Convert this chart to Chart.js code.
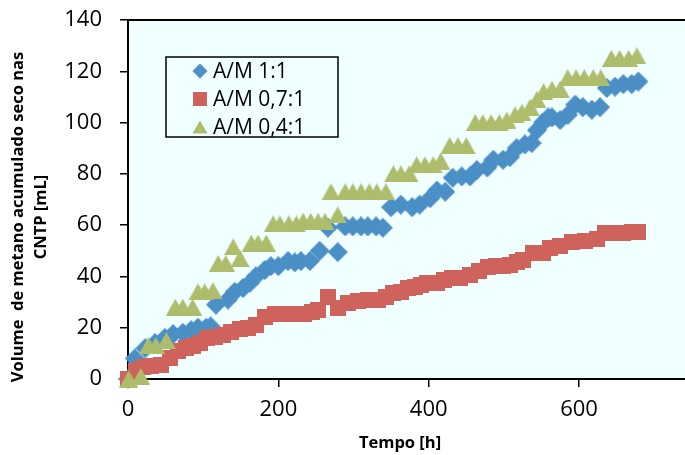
<!DOCTYPE html>
<html><head><meta charset="utf-8">
<script src="https://cdn.jsdelivr.net/npm/chart.js@4/dist/chart.umd.min.js"></script>
<style>html,body{margin:0;padding:0;background:#fff;}#wrap{width:685px;height:455px;}</style>
</head><body><div id="wrap"><canvas id="c" width="685" height="455"></canvas></div>
<script>
// ---- data ----
const seriesNames = ['A/M 1:1', 'A/M 0,7:1', 'A/M 0,4:1'];
const xTitle = 'Tempo [h]';
const yTitleLines = ['Volume  de metano acumulado seco nas', 'CNTP [mL]'];
const xTickValues = [0, 200, 400, 600];
const yTickValues = [0, 20, 40, 60, 80, 100, 120, 140];

const hoursA = [0,9,23,36,49,60,73,84,93,104,110,117,133,142,153,162,170,182,190,200,213,222,230,242,255,266,279,289,299,310,319,330,339,350,363,378,388,402,411,422,432,444,455,464,478,486,499,508,517,528,537,544,552,559,564,575,585,595,605,617,628,637,648,659,670,679];
const volA   = [0,8,12,14,16,17.5,18,19,20,20,20.5,29,31,34,35.5,37.5,40,42.5,44,44,46,45.5,46,46,50,59,49.5,59.5,59.5,59.5,59.5,59.5,59,67,68,67,68,70.5,73.5,73,78.5,79,79,81.5,82.5,85.5,85.5,86.5,90,91.5,92,97,100,102,102,101,103,107,106,105,106,113.5,114,115,115,116];

const hoursB = [0,11,20,31,44,56,67,77,86,96,105,116,126,137,149,160,170,182,196,209,222,234,245,253,266,279,293,306,319,333,343,353,363,372,382,390,398,411,420,431,442,455,467,479,490,499,508,517,525,539,552,561,575,591,608,624,635,648,659,670,679];
const volB   = [0,3,4.7,5,5.5,8,11,12,13,14,16,16.5,17,18.5,19.5,20,21,24,25.5,25.5,25.5,25.5,26,27,32,27.5,29.5,30.5,31,31,32,33.5,34,35.5,36,36.5,37.5,37.5,38.5,39.5,39.5,40.5,42,43.5,44,44,44.5,45.5,46.5,49,49,51,52,53.5,54,54.5,57,57,57,57.5,57.5];

const hoursC = [1,17,27,37,51,63,73,86,93,102,113,120,130,140,149,164,173,184,193,202,214,224,233,243,253,262,270,279,289,299,310,321,331,343,353,363,374,384,395,406,416,428,439,450,462,472,483,494,504,515,524,535,544,553,564,575,585,596,607,619,629,643,654,666,677];
const volC   = [0,1,13,13,15,28,28,28,34,34,34.5,45,45,51.5,47,53,53,53,60.5,60.5,60.5,60.5,61.5,61.5,61.5,61.5,73,64,73,73,73,73,73,73,80,80,80,83.5,83.5,83.5,85,91,91,91,100,100,100,100,101,103,104,106,109,112,113,113,117.5,117.5,117.5,117.5,117.5,125,125,125,126];

const colors = ['#4a8fc6', '#d0625c', '#adbd6b'];
const shapes = ['diamond', 'square', 'triangle'];

function makeMarker(type, w, h, color) {
  const c = document.createElement('canvas');
  c.width = w; c.height = h;
  const g = c.getContext('2d');
  g.fillStyle = color;
  drawShape(g, type, w / 2, h / 2, w, h);
  return c;
}
function drawShape(g, type, cx, cy, w, h) {
  g.beginPath();
  if (type === 'diamond') {
    g.moveTo(cx, cy - h / 2); g.lineTo(cx + w / 2, cy); g.lineTo(cx, cy + h / 2); g.lineTo(cx - w / 2, cy);
  } else if (type === 'square') {
    g.rect(cx - w / 2, cy - h / 2, w, h);
  } else {
    g.moveTo(cx, cy - h / 2); g.lineTo(cx + w / 2, cy + h / 2); g.lineTo(cx - w / 2, cy + h / 2);
  }
  g.closePath();
  g.fill();
}
const markerSizes = [[20, 20], [16, 16], [19, 17]];
const legendSizes = [[15, 15], [14, 14], [15, 13]];

const toPts = (hs, vs) => hs.map((h, i) => ({ x: h, y: vs[i] }));
const allPts = [toPts(hoursA, volA), toPts(hoursB, volB), toPts(hoursC, volC)];

const datasets = allPts.map((pts, i) => ({
  label: seriesNames[i],
  data: pts,
  showLine: false,
  pointStyle: makeMarker(shapes[i], markerSizes[i][0], markerSizes[i][1], colors[i]),
  pointRadius: 9,
  pointHoverRadius: 9,
  clip: false,
  order: 3 - i
}));

const plotBg = '#f0ffff';
const decor = {
  id: 'decor',
  beforeDraw(chart) {
    const { ctx, chartArea: a } = chart;
    ctx.save();
    ctx.fillStyle = '#ffffff';
    ctx.fillRect(0, 0, chart.width, chart.height);
    ctx.fillStyle = plotBg;
    ctx.fillRect(a.left, a.top, a.right - a.left, a.bottom - a.top);
    ctx.restore();
  },
  afterDraw(chart) {
    const { ctx, chartArea: a } = chart;
    ctx.save();
    ctx.strokeStyle = '#000'; ctx.lineWidth = 2;
    ctx.beginPath(); ctx.moveTo(a.left - 1, a.top); ctx.lineTo(chart.width, a.top); ctx.stroke();
    const lx = 166, ly = 57, lw = 172, lh = 80;
    ctx.fillStyle = plotBg; ctx.fillRect(lx, ly, lw, lh);
    ctx.lineWidth = 1.5; ctx.strokeRect(lx, ly, lw, lh);
    ctx.font = '21px "Open Sans"'; ctx.textBaseline = 'middle'; ctx.textAlign = 'left';
    seriesNames.forEach((n, i) => {
      const cy = 71 + i * 28;
      ctx.fillStyle = colors[i];
      drawShape(ctx, shapes[i], 200, cy, legendSizes[i][0], legendSizes[i][1]);
      ctx.fillStyle = '#000';
      ctx.fillText(n, 213, cy + 1);
    });
    ctx.fillStyle = '#000';
    ctx.font = 'bold 16.5px "Open Sans"'; ctx.textAlign = 'center'; ctx.textBaseline = 'middle';
    ctx.fillText(xTitle, 400, 443);
    const yx = [18, 41];
    yTitleLines.forEach((t, i) => {
      ctx.save(); ctx.translate(yx[i], 217); ctx.rotate(-Math.PI / 2); ctx.fillText(t, 0, 0); ctx.restore();
    });
    ctx.restore();
  }
};

new Chart(document.getElementById('c'), {
  type: 'scatter',
  data: { datasets },
  options: {
    responsive: false, animation: false, devicePixelRatio: 1,
    layout: { autoPadding: false, padding: { top: 20, right: 0, bottom: 0, left: 0 } },
    plugins: { legend: { display: false }, tooltip: { enabled: false } },
    scales: {
      x: {
        type: 'linear', min: 0, max: 741,
        afterBuildTicks: s => { s.ticks = xTickValues.map(v => ({ value: v })); },
        afterFit: s => { s.height = 76; s.paddingLeft = 0; s.paddingRight = 0; s.paddingTop = 0; s.paddingBottom = 0; },
        ticks: { font: { family: 'Open Sans', size: 22 }, color: '#000', padding: 10, maxRotation: 0, autoSkip: false },
        grid: { drawOnChartArea: false, drawTicks: true, tickLength: 8, color: '#000', lineWidth: 1.5 },
        border: { display: true, color: '#000', width: 2 }
      },
      y: {
        min: 0, max: 140,
        afterBuildTicks: s => { s.ticks = yTickValues.map(v => ({ value: v })); },
        afterFit: s => { s.width = 128; s.paddingLeft = 0; s.paddingRight = 0; s.paddingTop = 0; s.paddingBottom = 0; },
        ticks: { font: { family: 'Open Sans', size: 22 }, color: '#000', padding: 18, autoSkip: false },
        grid: { drawOnChartArea: false, drawTicks: true, tickLength: 8, color: '#000', lineWidth: 1.5 },
        border: { display: true, color: '#000', width: 2 }
      }
    }
  },
  plugins: [decor]
});
</script></body></html>
